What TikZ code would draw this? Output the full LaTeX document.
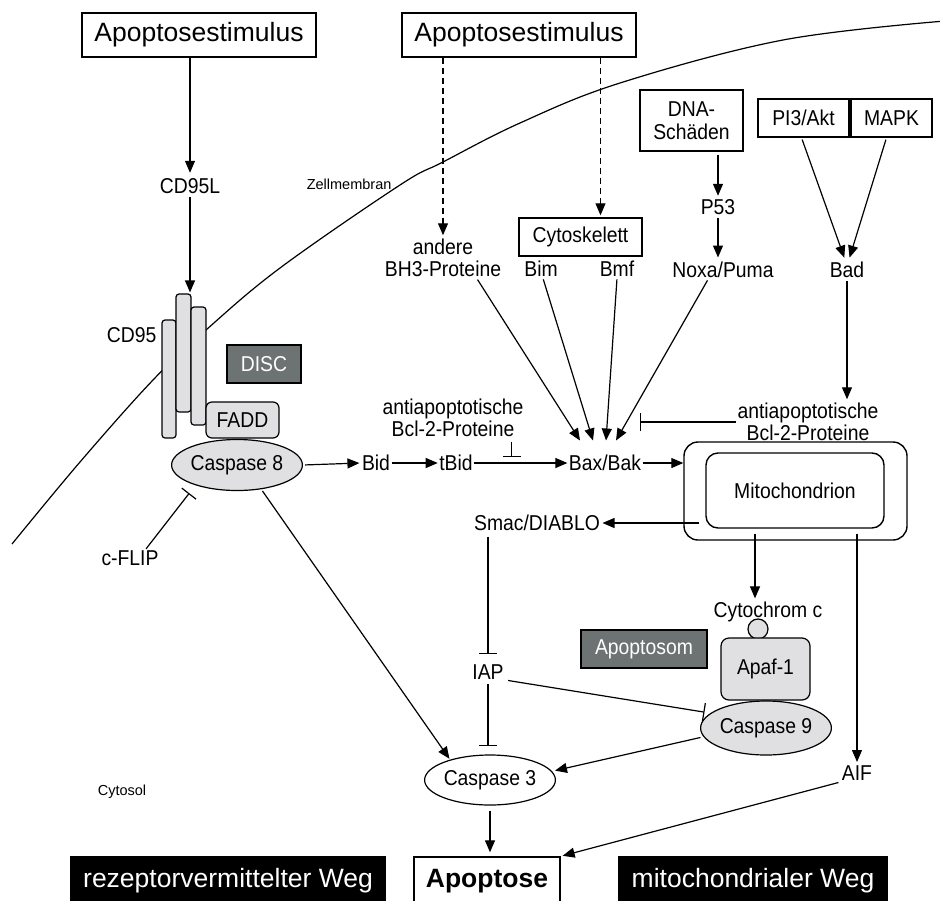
\documentclass[tikz,border=0pt]{standalone}
\usepackage{fontspec}
\setmainfont{Liberation Sans}
\newfontfamily\condfont{Liberation Sans}[FakeStretch=0.9]
\usetikzlibrary{arrows.meta,shapes.geometric,calc}
\definecolor{lgray}{HTML}{E0E0E2}
\definecolor{dgray}{HTML}{6D7272}
\newcommand\fL{\condfont\fontsize{21.5}{22.5}\selectfont}
\newcommand\fB{\fontsize{26.5}{30}\selectfont}
\newcommand\fS{\fontsize{14.5}{17}\selectfont}
\begin{document}
\begin{tikzpicture}[x=1pt,y=-1pt,line width=1.2pt,
  lbl/.style={font=\fL,inner sep=1pt,align=center},
  small/.style={font=\fS,inner sep=1pt},
  bx/.style={draw,line width=1.4pt,font=\fL,inner sep=0pt,align=center},
  bigbox/.style={draw,line width=1.4pt,font=\fB,inner sep=0pt},
  blackbox/.style={draw,fill=black,text=white,font=\fB,inner sep=0pt},
  darkbox/.style={draw,line width=1.8pt,fill=dgray,text=white,font=\fL,inner sep=0pt},
  gr/.style={draw,line width=1.2pt,fill=lgray,inner sep=0pt},
  arr/.style={-{Triangle[length=12pt,width=10pt]},line width=1.2pt},
  dsh/.style={dash pattern=on 6pt off 4pt,line width=1.1pt},
  inh/.style={-{Bar[width=18pt,line width=1.2pt]},line width=1.2pt}]
\useasboundingbox (0,0) rectangle (940,900);
\fill[white] (0,0) rectangle (940,900);

% membrane
\draw[line width=1.2pt] plot[smooth,tension=0.6] coordinates {(12,544) (80,462) (153,380) (206,330) (280,268) (400,185) (443,162) (520,123) (620,83) (783,40) (945,21)};
\node[small,anchor=east] (zell) at (393,184) {Zellmembran};
\node[small] (cytosol) at (122,792) {Cytosol};

% top boxes
\node[bigbox,minimum width=234pt,minimum height=44pt] (a1) at (199,35) {Apoptosestimulus};
\node[bigbox,minimum width=234pt,minimum height=44pt] (a2) at (519,35) {Apoptosestimulus};

% receptor path
\node[lbl] (cd95l) at (190,186) {CD95L};
\node[gr,rounded corners=3pt,minimum width=14pt,minimum height=118pt] (r1) at (169,379) {};
\node[gr,rounded corners=3pt,minimum width=15pt,minimum height=118pt] (r2) at (183.5,353) {};
\node[gr,rounded corners=3pt,minimum width=15pt,minimum height=118pt] (r3) at (198.5,366) {};
\node[lbl,anchor=east] (cd95) at (158,335) {CD95};
\node[gr,rounded corners=6pt,minimum width=73pt,minimum height=36pt,font=\fL] (fadd) at (242.5,420) {FADD};
\node[gr,ellipse,minimum width=112pt,minimum height=51pt,font=\fL] (c8) at (237,465) {Caspase 8};
\node[darkbox,minimum width=74pt,minimum height=38pt] (disc) at (264,364) {DISC};
\node[lbl] (cflip) at (130,558) {c-FLIP};

\draw[arr,shorten >=4pt] (a1.south -| cd95l) -- (cd95l.north);
\draw[arr,shorten <=2pt,shorten >=1pt] (cd95l.south) -- (cd95l.south |- r2.north);
\draw[inh,shorten >=10pt] ([xshift=16pt]cflip.north) -- (c8.206);

% middle chain
\node[lbl] (bid) at (376,463) {Bid};
\node[lbl] (tbid) at (456,463) {tBid};
\node[lbl] (bax) at (605,463) {Bax/Bak};
\draw[arr,shorten <=2pt,shorten >=1pt] (c8.east) -- (bid.west);
\draw[arr] (bid.east) -- (tbid.west);
\draw[arr] (tbid.east) -- (bax.west);

\node[lbl] (antiL) at (453,418) {antiapoptotische\\Bcl-2-Proteine};
\coordinate (inhL) at ($(tbid.east)!0.4!(bax.west)$);
\draw[inh,shorten <=3pt] (antiL.south -| inhL) -- ([yshift=6pt]inhL);

% upper middle
\node[lbl] (bh3) at (443,258) {andere\\BH3-Proteine};
\node[bx,minimum width=123pt,minimum height=38pt] (cyto) at (580.5,237) {Cytoskelett};
\coordinate (cytin) at ([xshift=20pt]cyto.north);
\draw[arr,dsh,shorten >=2pt] (a2.south -| bh3) -- (bh3.north);
\draw[arr,dsh,shorten >=2pt] (a2.south -| cytin) -- (cytin);
\node[lbl] (bim) at (541,269) {Bim};
\node[lbl] (bmf) at (617,269) {Bmf};

\node[bx,minimum width=103pt,minimum height=61pt] (dna) at (691.5,120.5) {DNA-\\Schäden};
\node[lbl] (p53) at (718,207) {P53};
\node[lbl] (noxa) at (723,270) {Noxa/Puma};
\draw[arr,shorten <=3pt,shorten >=2pt] (dna.south -| p53) -- (p53.north);
\draw[arr,shorten <=2pt,shorten >=3pt] (p53.south) -- (p53.south |- noxa.north);

\node[bx,minimum width=91pt,minimum height=38pt] (pi3) at (803.5,118) {PI3/Akt};
\node[bx,minimum width=81pt,minimum height=38pt] (mapk) at (891.5,118) {MAPK};
\node[lbl] (bad) at (847,270) {Bad};
\draw[arr,shorten <=2pt,shorten >=3pt] ([xshift=-2pt]pi3.south) -- (bad.100);
\draw[arr,shorten <=2pt,shorten >=3pt] ([xshift=-5pt]mapk.south) -- (bad.80);

\node[lbl] (antiR) at (808,422) {antiapoptotische\\Bcl-2-Proteine};
\draw[arr,shorten <=2pt,shorten >=2pt] (bad.south) -- (bad.south |- antiR.north);
\draw[inh,shorten >=-3pt] (antiR.west) -- (antiR.west -| bax.east);

\coordinate (tp1) at ([xshift=-25pt,yshift=13pt]bax.north);
\coordinate (tp2) at ([xshift=-12pt,yshift=13pt]bax.north);
\coordinate (tp3) at ([xshift=1pt,yshift=13pt]bax.north);
\coordinate (tp4) at ([xshift=11pt,yshift=13pt]bax.north);
\draw[arr,shorten <=1pt] ([xshift=34pt]bh3.south) -- (tp1);
\draw[arr,shorten <=1pt] ([xshift=2pt]bim.south) -- (tp2);
\draw[arr,shorten <=1pt] (bmf.south) -- (tp3);
\draw[arr,shorten <=1pt] ([xshift=-15pt]noxa.south) -- (tp4);

% mitochondrion
\node[draw,line width=1.4pt,rounded corners=14pt,minimum width=223pt,minimum height=98pt] (mito) at (795.5,491) {};
\node[draw,line width=1.4pt,rounded corners=12pt,minimum width=178pt,minimum height=75pt,font=\fL] (mitoin) at (795,490.5) {Mitochondrion};
\draw[arr] (bax.east) -- (bax.east -| mito.west);

\node[lbl] (smac) at (537,523) {Smac/DIABLO};
\coordinate (ms) at ([xshift=-6pt]mitoin.west);
\draw[arr,shorten >=1pt] (ms |- smac.east) -- (smac.east);

\node[lbl] (cytc) at (768,612) {Cytochrom c};
\coordinate (mc) at ([xshift=-40pt]mitoin.south);
\draw[arr,shorten <=5pt,shorten >=2pt] (mc) -- (mc |- cytc.north);
\node[gr,circle,minimum size=20pt] (circ) at (758,629) {};
\node[gr,rounded corners=8pt,minimum width=89pt,minimum height=62pt,font=\fL] (apaf) at (765.5,669) {Apaf-1};
\node[gr,ellipse,minimum width=110pt,minimum height=54pt,font=\fL] (c9) at (766,728) {Caspase 9};
\node[darkbox,minimum width=126pt,minimum height=38pt] (apopsom) at (644,649) {Apoptosom};

\node[lbl] (aif) at (857,773) {AIF};
\coordinate (ma) at ([xshift=62pt]mitoin.south);
\draw[arr,shorten <=5pt,shorten >=2pt] (ma) -- (ma |- aif.north);

% lower
\node[lbl] (iap) at (488,672) {IAP};
\node[draw,line width=1.2pt,ellipse,minimum width=112pt,minimum height=50pt,font=\fL,inner sep=0pt] (c3) at (490,780) {Caspase 3};
\draw[inh,shorten <=4pt,shorten >=9pt] (smac.south -| iap) -- (iap.north);
\draw[inh,shorten <=3pt,shorten >=8pt] (iap.south) -- (iap.south |- c3.north);
\draw[inh,shorten <=3pt,shorten >=6pt] (iap.-25) -- (c9.165);
\draw[arr,shorten <=3pt,shorten >=3pt] (c9.188) -- (c3.8);
\draw[arr,shorten <=2pt,shorten >=1pt] (c8.-45) -- (c3.153);

% bottom
\node[blackbox,minimum width=314pt,minimum height=48pt] (rez) at (228,881) {rezeptorvermittelter Weg};
\node[draw,line width=1.4pt,fill=white,font=\fB\bfseries,minimum width=146pt,minimum height=48pt,inner sep=0pt] (apoptose) at (487,881) {Apoptose};
\node[blackbox,minimum width=268pt,minimum height=48pt] (mitw) at (753,881) {mitochondrialer Weg};
\draw[arr,shorten <=5pt,shorten >=4pt] (c3.south) -- (apoptose.north -| c3.south);
\draw[arr,shorten <=2pt,shorten >=2pt] (aif.south west) -- (apoptose.north east);
\end{tikzpicture}
\end{document}
